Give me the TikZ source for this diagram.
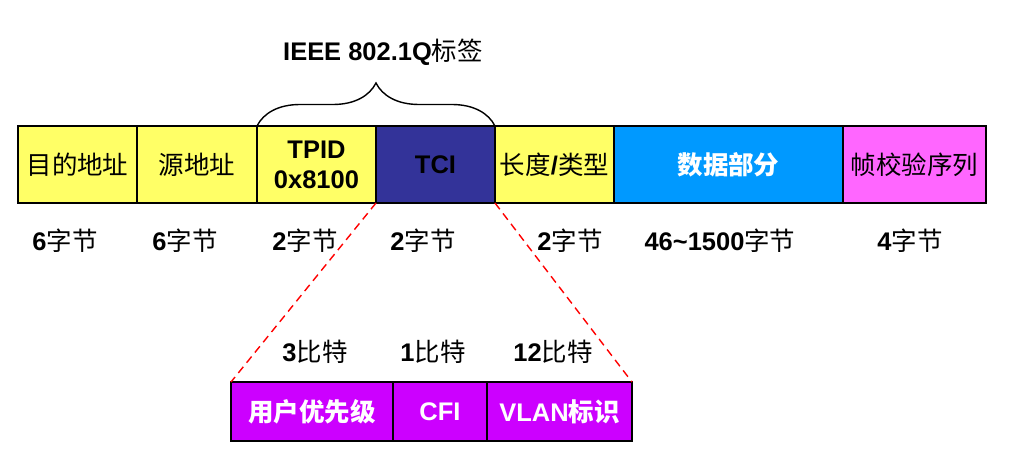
\documentclass[tikz,border=0pt]{standalone}
\usepackage{fontspec}
\setmainfont{Liberation Sans}
\newfontfamily\cjk{Noto Sans CJK SC}
\usetikzlibrary{decorations.pathreplacing}
\definecolor{fieldyellow}{RGB}{255,255,102}
\definecolor{tcinavy}{RGB}{51,51,153}
\definecolor{datablue}{RGB}{0,153,255}
\definecolor{fcspink}{RGB}{255,102,255}
\definecolor{bitpurple}{RGB}{204,0,255}
\newcommand{\zh}[1]{{\cjk\mdseries #1}}
\newcommand{\zhb}[1]{{\cjk\bfseries #1}}

\tikzset{
  field/.style={draw, rectangle, line width=1.1pt, inner sep=0pt, outer sep=0pt,
    anchor=north west, minimum height=1.54cm, align=center,
    font=\fontsize{14.5}{17}\selectfont\bfseries},
  bitfield/.style={field, minimum height=1.18cm, fill=bitpurple, text=white},
  sizelabel/.style={font=\fontsize{14.5}{17}\selectfont\bfseries}
}

\begin{document}
\begin{tikzpicture}[x=0.02cm, y=-0.02cm]
\useasboundingbox (0,0) rectangle (1009,465);

\node[field, fill=fieldyellow, minimum width=2.38cm] (dst) at (18,126){\zh{目的地址}};
\node[field, fill=fieldyellow, minimum width=2.40cm] (src) at (137,126){\zh{源地址}};
\node[field, fill=fieldyellow, minimum width=2.38cm] (tpid) at (257,126){TPID\\0x8100};
\node[field, fill=tcinavy, minimum width=2.38cm] (tci) at (376,126){TCI};
\node[field, fill=fieldyellow, minimum width=2.38cm] (len) at (495,126){\zh{长度}/\zh{类型}};
\node[field, fill=datablue, text=white, minimum width=4.58cm] (data) at (614,126){\zhb{数据部分}};
\node[field, fill=fcspink, minimum width=2.86cm] (fcs) at (843,126){\zh{帧校验序列}};

\node[sizelabel] (dstsize) at (65,241){6\zh{字节}};
\node[sizelabel] (srcsize) at (185,241){6\zh{字节}};
\node[sizelabel] (tpidsize) at (305,241){2\zh{字节}};
\node[sizelabel] (tcisize) at (423,241){2\zh{字节}};
\node[sizelabel] (lensize) at (570,241){2\zh{字节}};
\node[sizelabel] (datasize) at (720,241){46\textasciitilde1500\zh{字节}};
\node[sizelabel] (fcssize) at (910,241){4\zh{字节}};

% 802.1Q tag
\draw[line width=0.8pt, decorate, decoration={brace, amplitude=0.86cm}]
  (tpid.north west) -- (tci.north east);
\node[sizelabel] (tag) at (383,52){IEEE 802.1Q\zh{标签}};

% TCI fields
\node[bitfield, minimum width=3.24cm] (pri) at (231,382){\zhb{用户优先级}};
\node[bitfield, minimum width=1.88cm] (cfi) at (393,382){CFI};
\node[bitfield, minimum width=2.90cm] (vid) at (487,382){VLAN\zhb{标识}};

\node[sizelabel] (prisize) at (315,352){3\zh{比特}};
\node[sizelabel] (cfisize) at (433,352){1\zh{比特}};
\node[sizelabel] (vidsize) at (553,352){12\zh{比特}};

\draw[red, line width=0.8pt, dash pattern=on 4.5pt off 3pt] (tci.south west) -- (pri.north west);
\draw[red, line width=0.8pt, dash pattern=on 4.5pt off 3pt] (tci.south east) -- (vid.north east);

\end{tikzpicture}
\end{document}
